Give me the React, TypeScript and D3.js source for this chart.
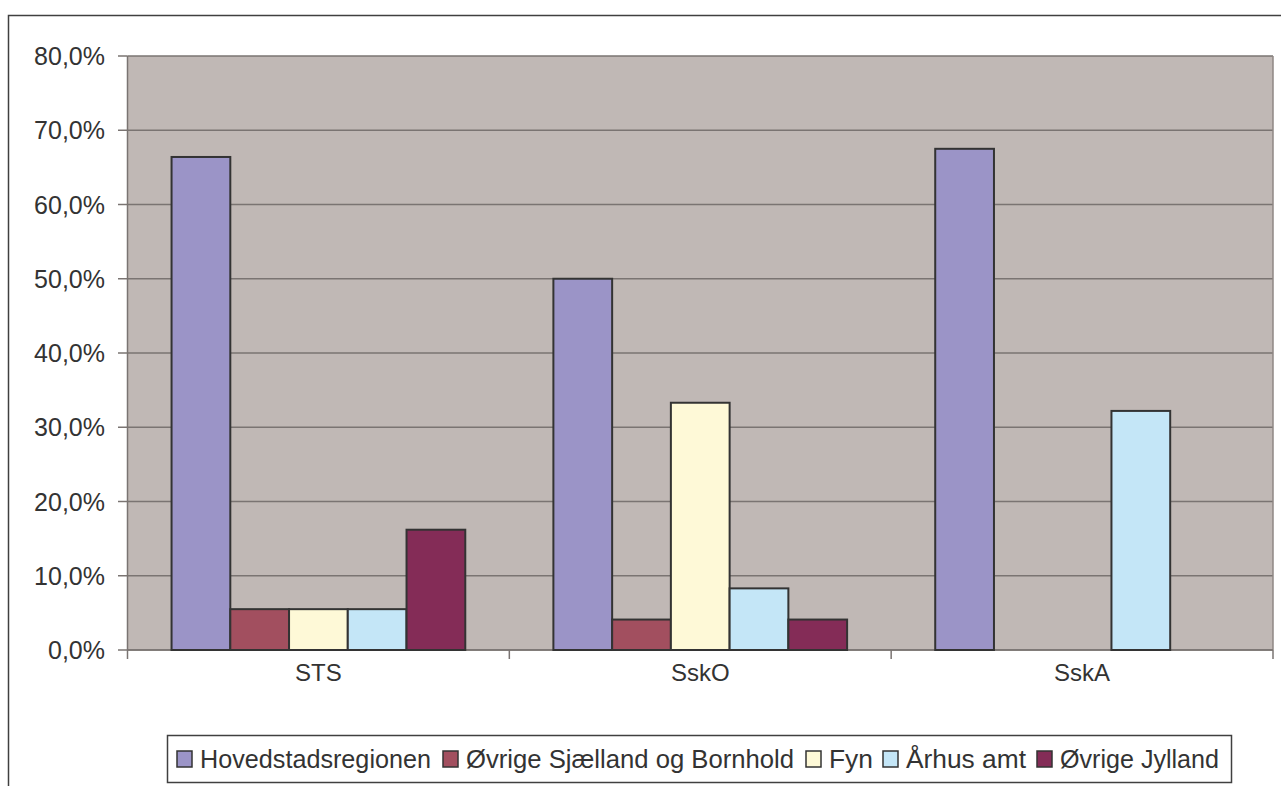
import React from "react";
import * as d3 from "d3";

const categories = ["STS", "SskO", "SskA"];
const seriesNames = [
  "Hovedstadsregionen",
  "Øvrige Sjælland og Bornhold",
  "Fyn",
  "Århus amt",
  "Øvrige Jylland",
];
const seriesColors = ["#9B94C7", "#A24F5F", "#FEF9D7", "#C4E6F7", "#842C57"];
const hovedstad = [66.4, 50.0, 67.5];
const sjaelland = [5.5, 4.1, 0];
const fyn = [5.5, 33.3, 0];
const aarhus = [5.5, 8.3, 32.2];
const jylland = [16.2, 4.1, 0];
const seriesValues = [hovedstad, sjaelland, fyn, aarhus, jylland];
const yTicks = [0, 10, 20, 30, 40, 50, 60, 70, 80];

const W = 1281;
const H = 786;
const plot = { left: 127.5, right: 1273, top: 56, bottom: 650 };
const FONT = "'Liberation Sans', Arial, sans-serif";
const TXT = "#333333";

export default function App() {
  const x = d3.scaleBand<string>().domain(categories).range([plot.left, plot.right]).paddingInner(0).paddingOuter(0);
  const xs = d3
    .scaleBand<string>()
    .domain(seriesNames)
    .range([0, x.bandwidth()])
    .paddingInner(0)
    .paddingOuter(0.75);
  const y = d3.scaleLinear().domain([0, 80]).range([plot.bottom, plot.top]);
  const fmt = (v: number) => v.toFixed(1).replace(".", ",") + "%";

  // legend layout
  const legendSwatchX = [177, 443, 806, 883, 1037];
  const legendTextW = [231, 328, 44, 120, 159];
  const legend = { x: 167.5, y: 735.5, w: 1064, h: 47 };

  return (
    <svg width={W} height={H} style={{ position: "absolute", left: 0, top: 0, display: "block" }}>
      <rect x={0} y={0} width={W} height={H} fill="#ffffff" />
      {/* outer chart frame */}
      <rect x={8.5} y={15.5} width={W + 20} height={H + 20} fill="#ffffff" stroke="#404040" strokeWidth={1.5} />
      {/* plot area */}
      <rect x={plot.left} y={plot.top} width={plot.right - plot.left} height={plot.bottom - plot.top} fill="#C0B8B5" />
      {yTicks.map((t) => (
        <g key={t}>
          <line x1={plot.left} x2={plot.right} y1={y(t)} y2={y(t)} stroke="#7A7472" strokeWidth={1.5} />
          <line x1={118} x2={plot.left} y1={y(t)} y2={y(t)} stroke="#7A7472" strokeWidth={1.5} />
          <text x={105} y={y(t)} dy="0.36em" textAnchor="end" fontFamily={FONT} fontSize={25} fill={TXT}>
            {fmt(t)}
          </text>
        </g>
      ))}
      {/* plot right border */}
      <line x1={plot.right} x2={plot.right} y1={plot.top} y2={plot.bottom} stroke="#8F8785" strokeWidth={1.5} />
      {/* axes */}
      <line x1={plot.left} x2={plot.left} y1={plot.top} y2={plot.bottom} stroke="#7A7472" strokeWidth={1.5} />
      <line x1={plot.left} x2={plot.right} y1={plot.bottom} y2={plot.bottom} stroke="#7A7472" strokeWidth={1.5} />
      {[0, 1, 2, 3].map((i) => {
        const xx = plot.left + i * x.bandwidth();
        return <line key={i} x1={xx} x2={xx} y1={plot.bottom} y2={plot.bottom + 9} stroke="#7A7472" strokeWidth={1.5} />;
      })}
      {/* bars */}
      {categories.map((c, ci) => (
        <g key={c}>
          {seriesNames.map((s, si) => {
            const v = seriesValues[si][ci];
            if (!v) return null;
            const bx = (x(c) as number) + (xs(s) as number);
            return (
              <rect
                key={s}
                x={bx}
                y={y(v)}
                width={xs.bandwidth()}
                height={plot.bottom - y(v)}
                fill={seriesColors[si]}
                stroke="#333333"
                strokeWidth={2}
              />
            );
          })}
          <text
            x={(x(c) as number) + x.bandwidth() / 2}
            y={672}
            dy="0.36em"
            textAnchor="middle"
            fontFamily={FONT}
            fontSize={24}
            fill={TXT}
          >
            {c}
          </text>
        </g>
      ))}
      {/* legend */}
      <rect x={legend.x} y={legend.y} width={legend.w} height={legend.h} fill="#ffffff" stroke="#404040" strokeWidth={1.5} />
      {seriesNames.map((s, i) => (
        <g key={s}>
          <rect x={legendSwatchX[i]} y={751} width={15} height={16} fill={seriesColors[i]} stroke="#333333" strokeWidth={1.5} />
          <text
            x={legendSwatchX[i] + 23}
            y={759}
            dy="0.36em"
            fontFamily={FONT}
            fontSize={25}
            fill={TXT}
            textLength={legendTextW[i]}
            lengthAdjust="spacingAndGlyphs"
          >
            {s}
          </text>
        </g>
      ))}
    </svg>
  );
}
